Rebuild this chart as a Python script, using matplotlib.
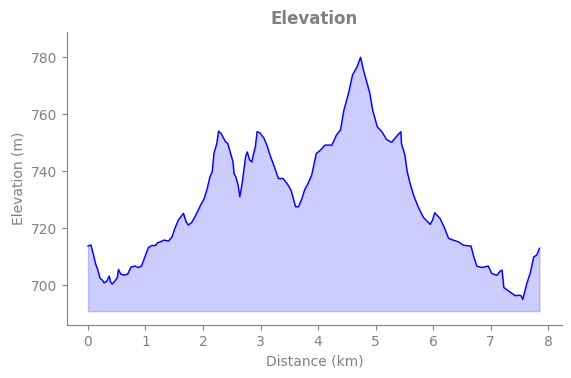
import numpy as np
import matplotlib.pyplot as plt

# elevation profile
distance = [0.00, 0.05, 0.09, 0.13, 0.17, 0.21, 0.25, 0.28, 0.33, 0.37, 0.39, 0.42, 0.47, 0.51,
            0.53, 0.57, 0.63, 0.69, 0.75, 0.82, 0.87, 0.93, 0.99, 1.05, 1.11, 1.17, 1.21, 1.26,
            1.32, 1.40, 1.46, 1.51, 1.57, 1.66, 1.70, 1.74, 1.80, 1.86, 1.95, 2.02, 2.07, 2.12,
            2.16, 2.19, 2.24, 2.27, 2.32, 2.39, 2.43, 2.48, 2.52, 2.54, 2.57, 2.61, 2.64, 2.68,
            2.71, 2.74, 2.77, 2.81, 2.85, 2.87, 2.91, 2.94, 2.99, 3.06, 3.11, 3.17, 3.24, 3.31,
            3.39, 3.46, 3.53, 3.57, 3.61, 3.66, 3.72, 3.77, 3.82, 3.89, 3.97, 4.03, 4.12, 4.24,
            4.32, 4.39, 4.45, 4.53, 4.60, 4.68, 4.74, 4.79, 4.90, 4.95, 5.03, 5.11, 5.19, 5.28,
            5.37, 5.44, 5.45, 5.51, 5.55, 5.60, 5.66, 5.74, 5.83, 5.95, 5.99, 6.03, 6.12, 6.19,
            6.27, 6.35, 6.44, 6.53, 6.66, 6.70, 6.76, 6.85, 6.96, 7.02, 7.11, 7.17, 7.20, 7.23,
            7.31, 7.43, 7.50, 7.53, 7.56, 7.63, 7.69, 7.75, 7.80, 7.85]
elevation = [713.8, 714.2, 711.2, 707.7, 705.4, 702.5, 701.9, 700.9, 701.6, 703.3, 701.3, 700.5,
             701.6, 702.8, 705.6, 704.0, 703.6, 704.0, 706.5, 706.8, 706.3, 706.8, 710.0, 713.3,
             714.0, 714.0, 715.0, 715.3, 715.9, 715.6, 717.0, 720.0, 722.9, 725.3, 722.6, 721.2,
             722.0, 724.1, 727.8, 730.5, 733.7, 738.1, 739.9, 746.3, 749.8, 754.1, 753.1, 750.4,
             749.8, 746.3, 743.4, 739.1, 738.1, 735.2, 731.1, 735.8, 740.5, 745.1, 746.8, 744.0,
             743.3, 745.4, 748.6, 753.9, 753.5, 751.6, 749.2, 745.4, 741.6, 737.5, 737.5, 735.8,
             733.4, 730.5, 727.6, 727.6, 730.5, 733.7, 735.5, 738.7, 746.3, 747.2, 749.2, 749.2,
             752.7, 754.5, 761.5, 767.4, 773.8, 776.7, 780.0, 775.5, 767.4, 761.5, 755.6, 753.9,
             751.2, 750.2, 752.4, 753.9, 749.8, 745.7, 739.9, 735.8, 731.7, 727.6, 723.9, 721.4,
             722.9, 725.5, 723.5, 720.6, 716.5, 715.9, 715.3, 714.1, 713.8, 710.6, 706.8, 706.3,
             706.8, 704.2, 703.6, 705.1, 705.4, 699.3, 698.1, 696.4, 696.6, 696.4, 695.1, 700.7,
             704.4, 710.0, 710.6, 713.0]
base = 691

x = np.array(distance)
y = np.array(elevation)

fig = plt.figure(figsize=(5.71, 3.78), dpi=100)
ax = fig.add_axes([0.1173, 0.140, 0.8667, 0.775])
ax.plot(x, y, color='blue', linewidth=1)
ax.fill_between(x, y, base, color='blue', alpha=0.2)

ax.set_xlim(-0.365, 8.24)
ax.set_ylim(686.1, 788.8)
ax.set_xticks(range(0, 9))
ax.set_yticks([700, 720, 740, 760, 780])

ax.set_title('Elevation', color='gray', fontweight='bold', fontsize=12)
ax.set_xlabel('Distance (km)', color='gray')
ax.set_ylabel('Elevation (m)', color='gray')
ax.tick_params(colors='gray')
for s in ['top', 'right']:
    ax.spines[s].set_visible(False)
for s in ['left', 'bottom']:
    ax.spines[s].set_color('gray')

fig.savefig('out.png', dpi=100)
